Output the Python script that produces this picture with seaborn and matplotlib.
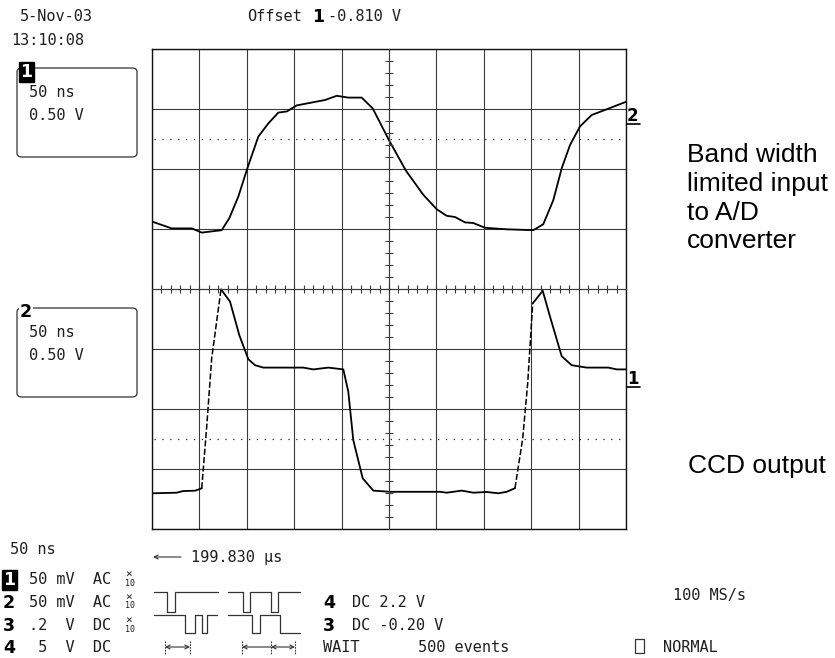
import numpy as np
import pandas as pd
import matplotlib
matplotlib.use("Agg")
import matplotlib.pyplot as plt
import seaborn as sns
from matplotlib.patches import FancyBboxPatch, Rectangle
from matplotlib.lines import Line2D

# ---------------- data (screen divisions: x 0..10, y 0..8) ----------------
# Channel 2: band-width limited input to A/D converter (upper trace)
ch2_t = [0.015, 0.416, 0.838, 1.049, 1.470, 1.631, 1.821, 2.011, 2.243, 2.454,
         2.665, 2.848, 3.053, 3.650, 3.897, 4.141, 4.424, 4.656, 5.000, 5.359,
         5.724, 6.006, 6.217, 6.392, 6.603, 6.778, 7.025, 7.483, 8.044, 8.255,
         8.466, 8.643, 8.819, 9.030, 9.276, 9.593, 10.0]
ch2_v = [5.12, 5.01, 5.01, 4.94, 4.98, 5.18, 5.54, 6.01, 6.54, 6.76,
         6.94, 6.96, 7.06, 7.15, 7.22, 7.19, 7.19, 7.01, 6.48, 5.97,
         5.57, 5.33, 5.22, 5.20, 5.11, 5.10, 5.02, 4.995, 4.98, 5.08,
         5.48, 6.01, 6.40, 6.71, 6.90, 6.995, 7.12]

# Channel 1: CCD output (lower trace)
ch1_t = [0.015, 0.521, 0.660, 0.907, 1.049, 1.154, 1.259, 1.456, 1.646, 1.842,
         2.032, 2.173, 2.348, 3.192, 3.403, 3.719, 4.036, 4.141, 4.247, 4.445,
         4.669, 5.021, 6.076, 6.217, 6.534, 6.778, 7.061, 7.306, 7.483, 7.658,
         7.821, 7.926, 8.032, 8.243, 8.397, 8.643, 8.854, 9.171, 9.627, 9.804, 10.0]
ch1_v = [0.595, 0.605, 0.633, 0.638, 0.678, 1.705, 2.845, 3.995, 3.79, 3.23,
         2.83, 2.73, 2.69, 2.69, 2.66, 2.69, 2.66, 2.29, 1.48, 0.845,
         0.64, 0.62, 0.62, 0.605, 0.64, 0.605, 0.617, 0.595, 0.62, 0.68,
         1.51, 2.43, 3.76, 3.97, 3.54, 2.88, 2.73, 2.69, 2.69, 2.66, 2.66]

# ---------------- layout ----------------
W, H = 835, 658
L, R, T, B = 152, 626, 49, 529
TXT = '#1e1e1e'
GRID = '#3a3a3a'

sns.set_theme(style="white")
plt.rcParams['font.family'] = ['DejaVu Sans Mono', 'DejaVu Sans']

fig = plt.figure(figsize=(W / 100, H / 100), dpi=100)
fig.patch.set_facecolor('white')
pos = [L / W, 1 - B / H, (R - L) / W, (B - T) / H]
ax = fig.add_axes(pos)
ax.set_xlim(0, 10)
ax.set_ylim(0, 8)
ax.set_xticks(np.arange(0, 11))
ax.set_yticks(np.arange(0, 9))
ax.grid(True, color=GRID, lw=0.8)
ax.tick_params(length=0, labelbottom=False, labelleft=False)
ax.set_facecolor('white')
for s in ax.spines.values():
    s.set_color('#111111')
    s.set_linewidth(1.0)

# dotted reference levels
for lvl in (1.5, 6.5):
    ax.axhline(lvl, xmin=0.005, xmax=0.99, color='#222222', lw=0.9,
               linestyle=(0, (1.0, 5.3)))

# centre axes with minor ticks
axc = fig.add_axes(pos, facecolor='none')
axc.set_xlim(0, 10)
axc.set_ylim(0, 8)
axc.spines['left'].set_position(('data', 5))
axc.spines['bottom'].set_position(('data', 4))
axc.spines['top'].set_visible(False)
axc.spines['right'].set_visible(False)
for k in ('left', 'bottom'):
    axc.spines[k].set_color(GRID)
    axc.spines[k].set_linewidth(0.8)
axc.set_xticks(np.round(np.arange(0.2, 9.9, 0.2), 2))
axc.set_yticks(np.round(np.arange(0.2, 7.9, 0.2), 2))
axc.tick_params(direction='inout', length=6.2, width=0.8, color=GRID,
                bottom=True, left=True, top=False, right=False,
                labelbottom=False, labelleft=False)
axc.grid(False)

# ---------------- traces ----------------
ch2 = pd.DataFrame({'t': ch2_t, 'v': ch2_v})
ch1 = pd.DataFrame({'t': ch1_t, 'v': ch1_v})

sns.lineplot(data=ch2, x='t', y='v', ax=ax, sort=False, estimator=None,
             color='black', lw=1.3)
for a, b in [(0, 5), (7, 30), (32, len(ch1))]:
    sns.lineplot(data=ch1.iloc[a:b], x='t', y='v', ax=ax, sort=False,
                 estimator=None, color='black', lw=1.3)
for a, b in [(4, 8), (29, 33)]:
    sns.lineplot(data=ch1.iloc[a:b], x='t', y='v', ax=ax, sort=False,
                 estimator=None, color='black', lw=1.1,
                 linestyle=(0, (4, 1.5)))
ax.set_xlabel('')
ax.set_ylabel('')
ax.set_xlim(0, 10)
ax.set_ylim(0, 8)


# ---------------- helpers ----------------
def ftxt(x, y, s, **kw):
    kw.setdefault('fontsize', 11)
    kw.setdefault('color', TXT)
    kw.setdefault('va', 'baseline')
    kw.setdefault('ha', 'left')
    return fig.text(x / W, 1 - y / H, s, **kw)


def bold(x, y, s, **kw):
    kw.setdefault('fontsize', 12.5)
    kw.setdefault('color', 'black')
    kw.setdefault('family', ['DejaVu Sans'])
    kw.setdefault('fontweight', 'bold')
    return ftxt(x, y, s, **kw)


def fline(xs, ys, **kw):
    kw.setdefault('color', '#333333')
    kw.setdefault('lw', 0.9)
    fig.add_artist(Line2D([x / W for x in xs], [1 - y / H for y in ys],
                          transform=fig.transFigure, **kw))


def pulse(edges, hi, lo):
    xs, ys = [edges[0]], [hi]
    level = hi
    for e in edges[1:-1]:
        xs += [e, e]
        nxt = lo if level == hi else hi
        ys += [level, nxt]
        level = nxt
    xs.append(edges[-1])
    ys.append(level)
    fline(xs, ys)


def arrow(x1, x2, y, style):
    ax.annotate('', xy=(x1, H - y), xytext=(x2, H - y),
                xycoords='figure pixels', textcoords='figure pixels',
                arrowprops=dict(arrowstyle=style, lw=0.8, color='#333333',
                                shrinkA=0, shrinkB=0, mutation_scale=7))


# ---------------- header ----------------
ftxt(20, 21, '5-Nov-03')
ftxt(11, 45, '13:10:08')
ftxt(247, 21, 'Offset')
bold(312, 22, '1')
ftxt(328, 21, '-0.810 V')

# ---------------- channel boxes ----------------
for top, lab, inv in [(68, '1', True), (308, '2', False)]:
    box = FancyBboxPatch((17 / W, 1 - (top + 89) / H), 120 / W, 89 / H,
                         boxstyle='round,pad=0,rounding_size=0.006',
                         transform=fig.transFigure, fill=False,
                         ec='#333333', lw=0.9)
    fig.add_artist(box)
    if inv:
        bold(20, top + 9, lab, color='white',
             bbox=dict(boxstyle='square,pad=0.08', fc='black', ec='black'))
    else:
        bold(20, top + 9, lab,
             bbox=dict(boxstyle='square,pad=0.05', fc='white', ec='none'))
    ftxt(29, top + 29, '50 ns')
    ftxt(29, top + 52, '0.50 V')

# trace markers on the right
bold(627, 121, '2', fontsize=12)
fline([627, 640], [124, 124], color='black', lw=1.2)
bold(627, 384, '1', fontsize=12)
fline([627, 640], [387, 387], color='black', lw=1.2)

# ---------------- annotations ----------------
ann = dict(family=['Liberation Sans', 'DejaVu Sans'], fontsize=19,
           color='black')
for yy, s in [(161.5, 'Band width'), (190.5, 'limited input'),
              (219.5, 'to A/D'), (248.5, 'converter')]:
    ftxt(687, yy, s, **ann)
ftxt(688, 473, 'CCD output', **ann)

# ---------------- bottom status area ----------------
ftxt(10, 554, '50 ns')
arrow(153, 181, 557, '->')
ftxt(191, 562, '199.830 µs')

rows = [584, 607, 630, 652]
bold(3, rows[0] + 1, '1', color='white',
     bbox=dict(boxstyle='square,pad=0.08', fc='black', ec='black'))
bold(3, rows[1] + 1, '2')
bold(3, rows[2] + 1, '3')
bold(3, rows[3] + 1, '4')
ftxt(29, rows[0], '50 mV  AC')
ftxt(29, rows[1], '50 mV  AC')
ftxt(29, rows[2], '.2  V  DC')
ftxt(29, rows[3], ' 5  V  DC')
for r in rows[:3]:
    ftxt(125, r - 7, '×', fontsize=8)
    ftxt(125, r + 1.5, '10', fontsize=6)

# pulse icons
pulse([154, 167, 175, 218], 592, 612)
pulse([228, 243, 250, 271, 278, 300], 592, 612)
pulse([154, 185, 195, 202, 207, 217], 615, 633)
pulse([228, 252, 260, 280, 300], 615, 633)

# interval markers
for xb in (165, 190, 242, 271, 295):
    fline([xb, xb], [641, 654], lw=0.8, linestyle=(0, (1.5, 1)))
arrow(165, 190, 647, '<->')
arrow(242, 271, 647, '->')
arrow(271, 295, 647, '<->')

bold(323, 608, '4')
ftxt(352, 607, 'DC 2.2 V')
bold(323, 631, '3')
ftxt(352, 630, 'DC -0.20 V')
ftxt(323, 652, 'WAIT')
ftxt(418, 652, '500 events')

ftxt(673, 600, '100 MS/s')
fig.add_artist(Rectangle((635 / W, 1 - 653 / H), 9 / W, 14 / H,
                         transform=fig.transFigure, fill=False,
                         ec='#333333', lw=0.9))
ftxt(663, 652, 'NORMAL')

fig.savefig('out.png', dpi=100)
